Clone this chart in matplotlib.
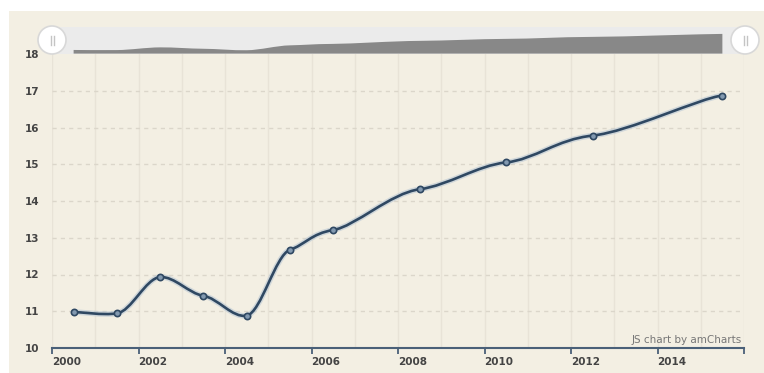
import matplotlib

matplotlib.use("Agg")

import matplotlib.pyplot as plt
from matplotlib.patches import Circle, PathPatch, Rectangle
from matplotlib.path import Path
from matplotlib.lines import Line2D
from matplotlib.transforms import IdentityTransform

# datos: valor anual (puntos a mitad de año)
anios = [2000.5, 2001.5, 2002.5, 2003.5, 2004.5, 2005.5, 2006.5,
         2008.5, 2010.5, 2012.5, 2015.5]
valores = [10.98, 10.94, 11.93, 11.42, 10.88, 12.67, 13.21,
           14.32, 15.05, 15.78, 16.87]
ticks_x = [2000, 2002, 2004, 2006, 2008, 2010, 2012, 2014, 2016]
etiquetas_x = ["2000", "2002", "2004", "2006", "2008", "2010", "2012", "2014", ""]
ticks_y = [10, 11, 12, 13, 14, 15, 16, 17, 18]

COL = {
    "crema": "#f3efe3",
    "linea": "#2f4862",
    "halo": "#b9c7d4",
    "bullet": "#8299b0",
    "eje": "#4a6078",
    "grid_h": "#dbd6ca",
    "grid_v": "#e8e3d7",
    "texto": "#444444",
    "scroll_bg": "#ebebeb",
    "scroll_area": "#888888",
}

W, H = 764, 373
BEZ_X, BEZ_Y = 6, 18  # suavizado: divisores de los puntos de control


def fx(px):
    return px / W


def fy(py):
    return 1 - py / H


def camino_suave(xs, ys, cerrar_abajo=None):
    """Curva suavizada con segmentos Bezier cubicos."""
    pts = list(zip(xs, ys))
    verts = [pts[0]]
    codes = [Path.MOVETO]
    n = len(pts)
    for i in range(n - 1):
        p0 = pts[i - 1] if i > 0 else pts[i]
        p1 = pts[i]
        p2 = pts[i + 1]
        p3 = pts[i + 2] if i + 2 < n else pts[i + 1]
        c1 = (p1[0] + (p2[0] - p0[0]) / BEZ_X, p1[1] + (p2[1] - p0[1]) / BEZ_Y)
        c2 = (p2[0] - (p3[0] - p1[0]) / BEZ_X, p2[1] - (p3[1] - p1[1]) / BEZ_Y)
        verts += [c1, c2, p2]
        codes += [Path.CURVE4] * 3
    if cerrar_abajo is not None:
        verts += [(xs[-1], cerrar_abajo), (xs[0], cerrar_abajo), pts[0]]
        codes += [Path.LINETO, Path.LINETO, Path.CLOSEPOLY]
    return Path(verts, codes)


fig = plt.figure(figsize=(W / 100, H / 100), dpi=100)
fig.patch.set_facecolor("white")
fig.add_artist(Rectangle((fx(9), 0), 1 - fx(9), fy(11), transform=fig.transFigure,
                         facecolor=COL["crema"], edgecolor="none", zorder=0))

# grafico principal
ax = fig.add_axes([fx(52), fy(348), fx(744) - fx(52), fy(54) - fy(348)])
ax.set_facecolor("none")
ax.set_xlim(2000, 2016)
ax.set_ylim(10, 18)

for x in range(2000, 2017):
    ax.axvline(x, color=COL["grid_v"], linewidth=1, zorder=1)
for y in ticks_y[1:-1]:
    ax.axhline(y, color=COL["grid_h"], linewidth=1, linestyle=(0, (3, 3)), zorder=1)

ax.add_patch(PathPatch(camino_suave(anios, valores), facecolor="none",
                       edgecolor=COL["halo"], linewidth=4, alpha=0.6, zorder=2))
ax.add_patch(PathPatch(camino_suave(anios, valores), facecolor="none",
                       edgecolor=COL["linea"], linewidth=1.9, zorder=3))
ax.plot(anios, valores, linestyle="none", marker="o", markersize=4.5,
        markerfacecolor=COL["bullet"], markeredgecolor=COL["linea"],
        markeredgewidth=1.2, zorder=4)

for s in ("top", "right", "left"):
    ax.spines[s].set_visible(False)
ax.spines["bottom"].set_color(COL["eje"])
ax.spines["bottom"].set_linewidth(1.5)

ax.set_xticks(ticks_x)
ax.set_xticklabels(etiquetas_x)
for lab in ax.get_xticklabels():
    lab.set_horizontalalignment("left")
ax.set_yticks(ticks_y)
ax.set_yticklabels([str(v) for v in ticks_y])
ax.tick_params(axis="x", direction="out", length=4, width=1.3, color=COL["eje"],
               pad=2.5, labelsize=7.5, labelcolor=COL["texto"])
ax.tick_params(axis="y", length=0, pad=9, labelsize=7.5, labelcolor=COL["texto"])
for lab in ax.get_xticklabels() + ax.get_yticklabels():
    lab.set_fontweight("bold")

ax.text(0.997, 0.028, "JS chart by amCharts", transform=ax.transAxes,
        ha="right", va="center", fontsize=7.5, color="#777777")

# barra de desplazamiento con vista previa
sb = fig.add_axes([fx(52), fy(54), fx(744) - fx(52), fy(27) - fy(54)])
sb.set_xlim(2000, 2016)
sb.set_ylim(9.5, 19.4)
sb.set_axis_off()
sb.add_patch(Rectangle((0, 0), 1, 1, transform=sb.transAxes,
                       facecolor=COL["scroll_bg"], edgecolor="none", zorder=0))
sb.add_patch(PathPatch(camino_suave(anios, valores, cerrar_abajo=9.65),
                       facecolor=COL["scroll_area"], edgecolor="none", zorder=1))

# manijas
for cx in (52, 745):
    cy = H - 40
    fig.add_artist(Circle((cx, cy), 14, transform=IdentityTransform(),
                          facecolor="white", edgecolor="#d8d8d8", linewidth=1.2, zorder=10))
    for dx in (-1.5, 1.5):
        fig.add_artist(Line2D([cx + dx, cx + dx], [cy - 4.5, cy + 4.5],
                              transform=IdentityTransform(), color="#c4c4c4",
                              linewidth=1, zorder=11))

fig.savefig("out.png", dpi=100)
